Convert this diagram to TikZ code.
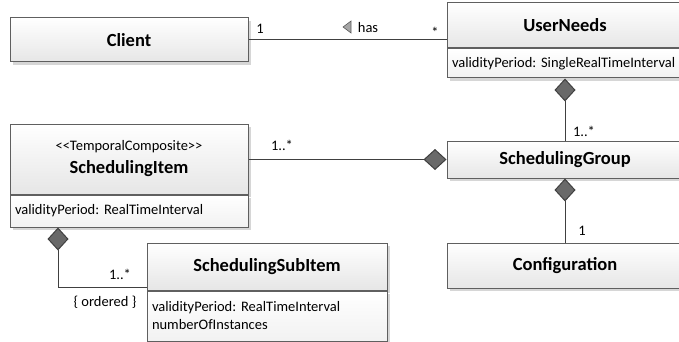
\documentclass[tikz,border=0pt]{standalone}
\usepackage{fontspec}
\setmainfont{Carlito}
\frenchspacing
\usetikzlibrary{arrows.meta,shadows}
\definecolor{UmlLine}{RGB}{95,95,95}
\definecolor{UmlFill}{RGB}{230,230,230}
\definecolor{UmlDiamond}{RGB}{105,105,105}
\newcommand{\namefont}{\fontsize{18.5}{22}\selectfont\bfseries}
\newcommand{\attrfont}{\fontsize{14.5}{18}\selectfont\mdseries}
\tikzset{
    umlshadow/.style={drop shadow={shadow xshift=3pt,shadow yshift=-3pt,fill=black!16,opacity=1}},
    umlhead/.style={draw=UmlLine,line width=1pt,top color=white,bottom color=UmlFill,umlshadow,inner sep=0pt,font=\namefont},
    umlattr/.style={draw=UmlLine,line width=1pt,top color=white,bottom color=UmlFill!55,umlshadow,
        anchor=north,inner xsep=5pt,inner ysep=0pt,align=left,font=\attrfont},
    assoc/.style={draw=black!75,line width=1pt},
    comp/.style={assoc,{Diamond[length=23pt,width=21pt,fill=UmlDiamond]}-},
    mult/.style={font=\attrfont,inner sep=0pt},
}

\begin{document}
\begin{tikzpicture}[x=1pt,y=-1pt]
    \useasboundingbox (0,0) rectangle (679,342);
    % classes
    \node[umlhead,minimum width=238pt,minimum height=44pt] (client) at (129,40) {Client};
    \node[umlhead,minimum width=236pt,minimum height=45pt] (un) at (565,25.5) {UserNeeds};
    \node[umlattr,text width=226pt,minimum height=29pt] (unattr) at (un.south) {validityPeriod: SingleRealTimeInterval};
    \node[umlhead,minimum width=236pt,minimum height=37pt] (sg) at (565,159.5) {SchedulingGroup};
    \node[umlhead,minimum width=236pt,minimum height=45pt] (conf) at (565,265.5) {Configuration};
    \node[umlhead,minimum width=238pt,minimum height=70pt,align=center] (si) at (129,159)
        {\attrfont <\kern0pt<TemporalComposite>\kern0pt>\\[1pt]\namefont SchedulingItem};
    \node[umlattr,text width=228pt,minimum height=32pt] (siattr) at (si.south) {validityPeriod: RealTimeInterval};
    \node[umlhead,minimum width=240pt,minimum height=47pt] (ssi) at (267,266.5) {SchedulingSubItem};
    \node[umlattr,text width=230pt,minimum height=50pt] (ssiattr) at (ssi.south)
        {validityPeriod: RealTimeInterval\\numberOfInstances};

    % associations
    \draw[assoc] (client.east) -- (client.east -| un.west);
    \node[mult] (m1) at (260,29) {1};
    \node[mult] (m2) at (435,32) {*};
    \node[mult] (has) at (368,28) {has};
    \filldraw[fill=gray!70,draw=black!65,line width=0.6pt] (351,21) -- (351,33) -- (343,27) -- cycle;

    \draw[comp] (unattr.south) -- (sg.north);
    \node[mult] (m3) at (584,131) {1..*};

    \draw[comp] (sg.west) -- (sg.west -| si.east);
    \node[mult] (m4) at (282,145) {1..*};

    \draw[comp] (sg.south) -- (conf.north);
    \node[mult] (m5) at (582,231) {1};

    \coordinate (sibend) at (58,287);
    \draw[comp] (siattr.south -| sibend) -- (sibend) -- (sibend -| ssi.west);
    \node[mult] (m6) at (120,274) {1..*};
    \node[mult] (ord) at (105,302) {\{ ordered \}};
\end{tikzpicture}
\end{document}
